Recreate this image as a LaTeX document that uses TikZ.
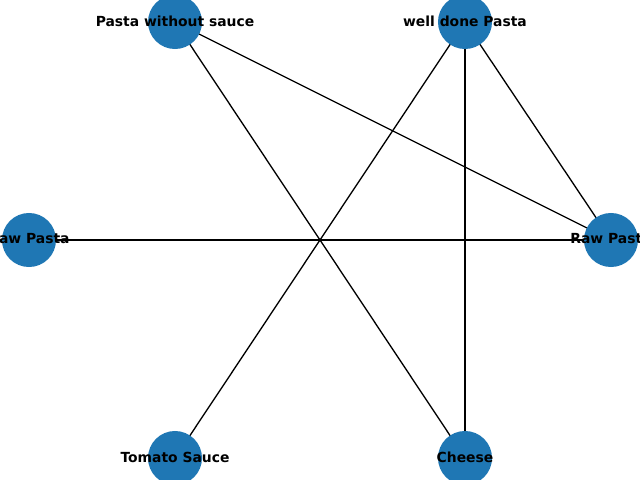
\documentclass[tikz,border=0pt]{standalone}
\usepackage{fontspec}
\setmainfont{DejaVu Sans}
\usetikzlibrary{backgrounds}
\definecolor{nxblue}{HTML}{1F77B4}
\tikzset{
  vert/.style={circle, fill=nxblue, draw=none, minimum size=38.9pt, inner sep=0pt},
  vlabel/.style={font=\fontsize{10pt}{12pt}\selectfont\bfseries, text=black, inner sep=0pt, yshift=0.7pt},
  edge/.style={draw=black, line width=0.95pt},
}
\begin{document}
\begin{tikzpicture}[x=0.72pt, y=-0.72pt]
\useasboundingbox (0,0) rectangle (640,480);
\clip (0,0) rectangle (640,480);
\node[vert, label={[vlabel]center:Pasta without sauce}] (pws) at (175,22) {};
\node[vert, label={[vlabel]center:well done Pasta}] (wdp) at (465,22) {};
\node[vert, label={[vlabel]center:Raw Pasta}] (rpl) at (29,240) {};
\node[vert, label={[vlabel]center:Raw Pasta}] (rpr) at (611,240) {};
\node[vert, label={[vlabel]center:Tomato Sauce}] (ts) at (175,458) {};
\node[vert, label={[vlabel]center:Cheese}] (ch) at (465,458) {};
\begin{scope}[on background layer]
\draw[edge] (pws.center) -- (rpr.center);
\draw[edge] (pws.center) -- (ch.center);
\draw[edge] (wdp.center) -- (ts.center);
\draw[edge] (wdp.center) -- (ch.center);
\draw[edge] (wdp.center) -- (rpr.center);
\draw[edge] (rpl.center) -- (rpr.center);
\end{scope}
\end{tikzpicture}
\end{document}
